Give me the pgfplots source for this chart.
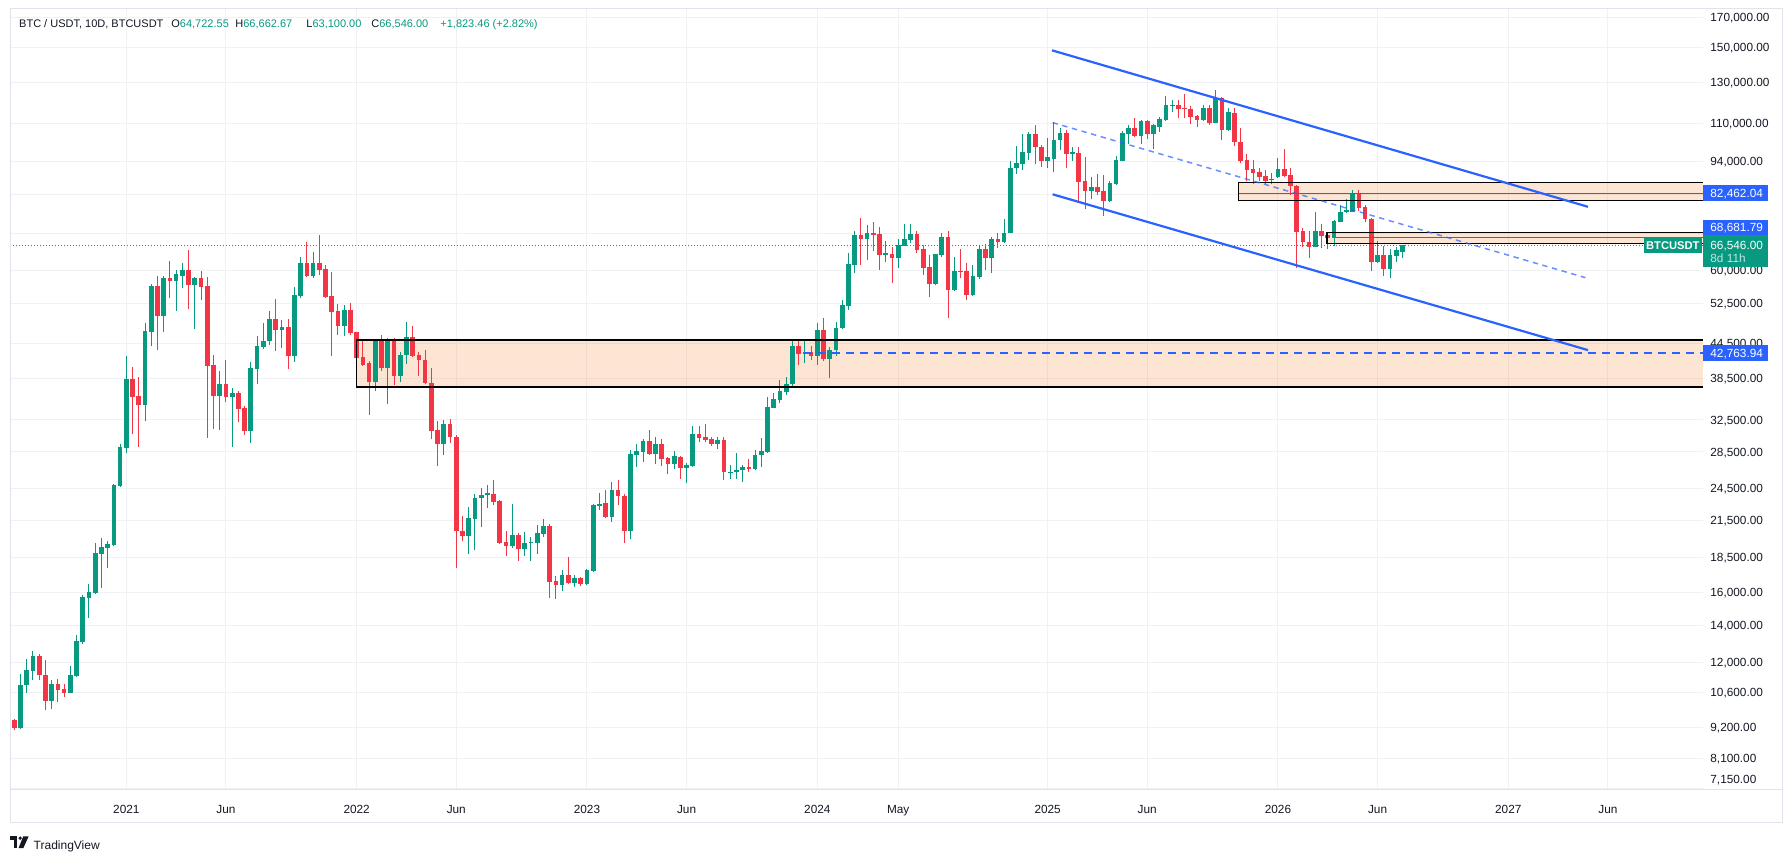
\documentclass[border=0pt]{standalone}
\usepackage{pgfplots}
\usepackage{pgfplotstable}
\pgfplotsset{compat=1.18}
\usetikzlibrary{calc}
\usepackage{fontspec}
\setmainfont{Liberation Sans}

\definecolor{tvgreen}{HTML}{089981}
\definecolor{tvred}{HTML}{F23645}
\definecolor{tvblue}{HTML}{2962FF}
\definecolor{tvtext}{HTML}{131722}
\definecolor{tvgrid}{HTML}{EFF1F5}
\definecolor{tvframe}{HTML}{E0E3EB}
\definecolor{zonetint}{RGB}{245,125,40}

\newcommand{\axisfont}{\fontsize{5.9}{7}\selectfont}
\newcommand{\headfont}{\fontsize{5.5}{6.5}\selectfont}

% BTC/USDT 10-day bars, prices in thousands of USDT (row = bar index)
\pgfplotstableread{
o h l c
9.47 9.50 9.08 9.17
9.17 11.46 9.13 10.96
10.93 12.19 10.60 11.65
11.61 12.56 11.19 12.34
12.34 12.44 11.19 11.39
11.41 12.14 9.87 10.26
10.26 11.19 9.91 11.00
11.00 11.23 10.22 10.74
10.78 11.00 10.43 10.60
10.60 11.81 10.58 11.38
11.34 13.43 11.32 13.12
13.07 15.83 12.96 15.70
15.64 16.57 14.42 16.02
15.97 19.62 15.90 18.80
18.72 20.03 16.30 19.26
19.18 19.74 17.69 19.50
19.42 25.00 19.34 24.89
24.80 29.50 24.70 29.14
29.02 42.30 28.32 38.50
38.50 40.40 30.70 35.65
35.80 38.80 29.14 34.50
34.50 48.40 32.30 46.80
46.60 56.80 44.10 56.30
56.30 58.60 43.30 49.80
49.80 58.60 46.60 58.20
58.20 62.50 53.60 57.40
57.40 60.20 50.80 59.10
58.80 61.90 55.80 60.20
60.20 65.30 51.30 56.50
56.50 58.40 47.20 58.20
58.20 59.90 53.20 56.00
56.30 58.40 30.20 40.60
40.80 42.50 31.30 35.85
35.85 39.80 31.20 37.70
37.70 41.60 35.00 35.65
35.65 37.00 29.05 36.25
36.25 36.60 32.20 34.00
34.10 34.40 30.60 31.00
31.00 41.15 29.55 40.25
40.10 45.80 37.60 44.10
43.90 48.40 43.50 45.00
44.90 50.90 44.30 49.20
49.20 53.40 43.20 47.10
47.10 49.00 43.70 47.60
47.60 49.20 40.00 42.30
42.30 56.00 41.20 54.30
54.15 63.50 53.65 61.90
61.90 67.50 58.40 58.60
58.60 64.80 58.20 61.90
61.90 69.50 58.90 60.20
60.40 61.40 53.70 53.90
54.10 59.60 42.30 50.70
50.90 52.40 46.10 47.80
47.80 52.20 45.80 51.10
51.10 52.60 46.10 46.50
46.60 46.70 40.00 42.00
42.10 44.90 40.60 40.80
41.00 41.40 33.20 38.00
38.00 45.20 36.60 44.90
44.90 46.00 39.80 40.30
40.30 45.50 34.70 44.90
44.90 45.50 37.50 38.90
38.90 42.90 38.00 42.40
42.40 48.60 40.90 45.70
45.70 47.80 42.10 42.30
42.40 42.90 38.90 41.50
41.60 43.30 37.60 37.80
37.90 40.25 30.00 31.10
31.20 32.40 26.90 29.40
29.40 32.50 28.20 32.00
32.00 32.60 29.55 30.25
30.30 30.60 17.70 20.60
20.60 21.90 19.80 20.20
20.20 22.70 18.75 21.70
21.65 24.00 19.05 23.60
23.55 24.60 20.90 23.90
23.85 24.85 22.60 24.05
24.00 25.40 22.90 23.25
23.30 23.40 19.55 19.65
19.70 20.60 18.60 19.35
19.35 23.00 19.20 20.25
20.25 20.45 18.20 19.10
19.10 20.50 18.60 19.65
19.60 20.13 18.25 19.72
19.65 21.10 18.75 20.40
20.35 21.60 20.10 21.00
21.00 21.20 15.66 16.70
16.75 17.15 15.60 16.50
16.50 17.57 16.12 17.20
17.20 18.50 16.60 16.65
16.65 17.20 16.38 17.00
17.00 17.05 16.45 16.60
16.60 17.65 16.50 17.55
17.45 23.00 17.40 22.90
22.80 24.10 22.50 23.05
23.10 24.40 21.70 21.80
21.80 25.20 21.40 24.40
24.40 25.40 22.90 23.80
23.80 24.00 19.60 20.60
20.60 28.70 19.90 28.30
28.20 29.40 26.75 28.60
28.50 30.05 27.40 29.85
29.85 31.20 28.20 28.30
28.30 30.25 27.15 29.50
29.50 30.10 26.90 27.70
27.80 27.90 26.00 27.15
27.15 28.60 26.60 28.00
27.90 28.05 25.55 26.65
26.65 27.25 25.05 27.00
26.90 31.70 26.80 30.70
30.70 31.70 29.70 30.20
30.35 32.00 29.70 29.95
30.10 30.35 29.15 29.50
29.50 30.25 28.80 29.95
29.95 30.30 25.35 26.20
26.15 27.05 25.55 26.30
26.20 28.40 25.55 26.50
26.45 27.05 25.15 26.75
26.75 27.70 26.20 26.55
26.55 28.70 26.50 28.20
28.15 30.20 26.75 28.60
28.50 35.65 28.40 34.30
34.20 36.25 34.15 35.40
35.30 38.35 34.80 36.65
36.50 38.70 36.00 37.70
37.60 44.90 37.05 44.10
44.10 45.10 40.65 42.55
42.55 44.90 41.05 42.90
42.90 44.00 41.50 42.30
42.30 48.30 40.80 47.10
47.10 49.40 41.40 41.70
41.70 43.80 38.60 43.30
43.30 48.50 42.30 47.50
47.50 53.30 47.30 52.20
51.95 64.50 50.95 61.70
61.40 70.70 59.40 69.50
69.50 74.50 61.30 68.20
68.20 72.40 62.80 70.10
70.10 73.30 65.10 69.60
69.80 71.70 60.20 64.10
64.00 67.80 62.30 64.40
64.30 66.10 57.00 63.30
63.30 68.30 60.70 66.70
66.50 72.60 66.30 68.20
68.00 72.60 67.30 69.80
69.80 70.70 64.60 65.40
65.60 66.70 59.00 60.70
60.90 63.90 53.90 56.80
56.80 64.30 56.50 64.20
63.90 70.10 63.40 69.00
69.00 70.70 49.50 55.40
55.40 63.40 55.20 59.90
60.00 65.60 58.20 59.60
59.90 62.00 53.20 54.20
54.20 61.30 54.00 58.80
58.50 66.40 58.00 65.60
65.60 66.90 60.20 63.10
63.10 69.00 59.40 68.20
68.20 70.10 65.90 67.40
67.40 74.20 67.20 70.10
70.00 94.00 69.90 91.50
91.40 100.30 89.40 93.40
93.10 105.00 90.90 97.70
97.30 106.10 94.70 105.00
105.00 109.10 92.80 99.60
99.80 100.70 92.00 94.00
94.00 103.30 91.60 95.50
95.10 110.50 89.80 102.80
102.40 107.60 98.30 105.40
105.40 106.80 91.60 96.90
96.80 99.90 94.00 97.50
97.30 99.80 79.20 86.20
86.60 95.50 77.30 83.10
83.10 88.00 80.50 84.50
84.50 89.40 81.80 82.80
83.10 89.00 75.10 79.80
79.80 86.60 79.60 85.90
85.60 96.20 85.40 94.70
94.30 106.30 94.00 105.40
105.00 109.10 101.10 107.60
107.60 112.40 104.00 104.10
104.10 111.30 101.10 111.10
111.10 111.30 103.20 105.00
105.00 109.50 98.70 109.10
108.30 112.80 106.20 111.90
111.50 123.10 111.10 118.60
118.10 120.90 115.20 118.70
118.60 121.00 112.40 116.60
117.20 124.10 112.40 116.50
116.60 118.10 109.50 112.80
113.30 113.80 108.10 111.50
111.50 118.60 111.10 117.10
117.10 118.60 109.10 110.20
110.00 126.20 109.90 122.00
122.00 122.30 102.80 106.70
106.70 116.80 106.50 115.20
114.60 116.80 100.10 101.70
101.80 107.80 93.20 94.10
94.70 96.80 86.70 90.60
91.10 94.70 85.60 89.60
89.80 91.40 86.70 88.00
88.40 90.90 85.60 86.70
87.00 89.50 85.50 87.40
88.00 95.20 87.80 91.10
91.10 98.70 88.00 88.40
89.00 91.50 81.90 84.80
85.00 85.20 60.60 70.40
70.60 71.50 66.20 67.50
67.50 70.50 63.20 66.20
66.20 76.50 66.00 70.60
70.60 72.60 65.80 69.30
69.50 70.40 65.70 68.70
68.70 73.80 66.40 73.50
73.30 78.50 73.20 76.40
76.20 80.50 75.90 76.90
76.50 83.40 76.30 82.70
82.70 83.40 76.70 77.70
78.00 78.60 73.20 74.30
74.30 74.40 59.80 62.10
62.10 67.90 61.90 64.10
64.10 66.30 58.60 60.40
60.40 65.60 58.20 63.90
63.70 66.20 62.30 65.40
64.72255 66.66267 63.10 66.546
}\candles
\pgfplotstablegetrowsof{\candles}
\pgfmathtruncatemacro{\lastbar}{\pgfplotsretval-1}

\begin{document}
\begin{tikzpicture}
\path[use as bounding box] (0pt,0pt) rectangle (895.5pt,429pt);
\fill[white] (0pt,0pt) rectangle (895.5pt,429pt);

\begin{axis}[
  at={(5pt,34.5pt)}, anchor=south west,
  scale only axis, width=846.5pt, height=390pt,
  xmin=-0.69, xmax=271.28,
  ymode=log, ymin=7.14, ymax=175.75,
  axis line style={draw=none},
  major tick length=0pt,
  grid=major,
  major grid style={draw=tvgrid, line width=0.5pt},
  xtick={18,34,55,71,92,108,129,142,166,182,203,219,240,256},
  xticklabels={2021,Jun,2022,Jun,2023,Jun,2024,May,2025,Jun,2026,Jun,2027,Jun},
  xticklabel style={anchor=base, inner sep=0pt, yshift=-12.2pt, font=\axisfont, text=tvtext},
  yticklabel pos=right,
  ytick={8.1,9.2,10.6,12,14,16,18.5,21.5,24.5,28.5,32.5,38.5,44.5,52.5,60,70,82,94,110,130,150,170},
  yticklabels={{8,100.00},{9,200.00},{10,600.00},{12,000.00},{14,000.00},{16,000.00},{18,500.00},{21,500.00},{24,500.00},{28,500.00},{32,500.00},{38,500.00},{44,500.00},{52,500.00},{60,000.00},{},{},{94,000.00},{110,000.00},{130,000.00},{150,000.00},{170,000.00}},
  yticklabel style={anchor=base west, inner sep=0pt, xshift=3.5pt, yshift=-2.1pt, font=\axisfont, text=tvtext},
  extra y ticks={7.15},
  extra y tick labels={7{,}150.00},
  extra y tick style={yticklabel style={yshift=4.85pt}},
]

% translucent zones
\addplot[draw=none, fill=zonetint, fill opacity=0.2, forget plot]
  coordinates {(54.94,45.15) (271.28,45.15) (271.28,37.23) (54.94,37.23)};
\addplot[draw=none, fill=zonetint, fill opacity=0.2, forget plot]
  coordinates {(196.7,86.19) (271.28,86.19) (271.28,80.11) (196.7,80.11)};
\addplot[draw=none, fill=zonetint, fill opacity=0.2, forget plot]
  coordinates {(210.9,70.24) (271.28,70.24) (271.28,67.08) (210.9,67.08)};

% last price line
\addplot[tvgreen, line width=0.5pt, dash pattern=on 0.5pt off 1pt, forget plot]
  coordinates {(-0.69,66.546) (271.28,66.546)};

% candles: wick from low to high, body from open to close
\pgfplotsinvokeforeach{0,...,\lastbar}{%
  \pgfplotstablegetelem{#1}{o}\of{\candles}\let\co\pgfplotsretval
  \pgfplotstablegetelem{#1}{h}\of{\candles}\let\ch\pgfplotsretval
  \pgfplotstablegetelem{#1}{l}\of{\candles}\let\cl\pgfplotsretval
  \pgfplotstablegetelem{#1}{c}\of{\candles}\let\cc\pgfplotsretval
  \ifdim\cc pt<\co pt \def\ccol{tvred}\else\def\ccol{tvgreen}\fi
  \edef\drawcandle{%
    \noexpand\addplot[forget plot, draw=\ccol, line width=0.5pt]
      coordinates {(#1,\cl) (#1,\ch)};
    \noexpand\addplot[forget plot, draw=\ccol, line width=2.35pt, line cap=butt]
      coordinates {(#1,\co) (#1,\cc)};
  }%
  \drawcandle
}

% zone outlines
\addplot[black, line width=0.7pt, forget plot]
  coordinates {(271.28,45.15) (54.94,45.15) (54.94,37.23) (271.28,37.23)};
\addplot[black, line width=0.7pt, forget plot]
  coordinates {(271.28,86.19) (196.7,86.19) (196.7,80.11) (271.28,80.11)};
\addplot[black, line width=0.7pt, forget plot]
  coordinates {(271.28,70.24) (210.9,70.24) (210.9,67.08) (271.28,67.08)};

% horizontal levels
\addplot[tvblue, line width=0.55pt, forget plot]
  coordinates {(196.7,82.46204) (271.28,82.46204)};
\addplot[tvblue, line width=0.55pt, forget plot]
  coordinates {(212.3,68.68179) (271.28,68.68179)};
\addplot[tvblue, line width=1pt, dash pattern=on 4pt off 3pt, forget plot]
  coordinates {(126.9,42.76394) (271.28,42.76394)};

% descending channel
\addplot[tvblue, line width=1.1pt, forget plot]
  coordinates {(166.7,148.3) (252.8,78.0)};
\addplot[tvblue, line width=1.1pt, forget plot]
  coordinates {(166.8,82.1) (252.8,43.3)};
\addplot[tvblue, draw opacity=0.7, line width=0.75pt, dash pattern=on 2.7pt off 2.3pt, forget plot]
  coordinates {(166.8,110.2) (252.4,58.3)};

% anchors for the price-scale tags
\coordinate (tagA) at (axis cs:271.28,82.46204);
\coordinate (tagB) at (axis cs:271.28,68.68179);
\coordinate (tagC) at (axis cs:271.28,66.546);
\coordinate (tagD) at (axis cs:271.28,42.76394);
\end{axis}

% frame
\draw[tvframe, line width=0.5pt] (5pt,17.65pt) rectangle (891pt,424.5pt);
\draw[tvframe, line width=0.5pt] (5pt,34.5pt) -- (891pt,34.5pt);

% price-scale tags
\fill[tvblue] ($(tagA)+(0pt,-4pt)$) rectangle ($(tagA)+(32.5pt,4pt)$);
\node[anchor=base west, inner sep=0pt, text=white, font=\axisfont] at ($(tagA)+(3.5pt,-2.1pt)$) {82,462.04};

\fill[tvblue] ($(tagB)+(0pt,1.4pt)$) rectangle ($(tagB)+(32.5pt,9pt)$);
\node[anchor=base west, inner sep=0pt, text=white, font=\axisfont] at ($(tagB)+(3.5pt,3.1pt)$) {68,681.79};

\fill[tvgreen] ($(tagC)+(0pt,-10.6pt)$) rectangle ($(tagC)+(32.5pt,5.25pt)$);
\node[anchor=base west, inner sep=0pt, text=white, font=\axisfont] at ($(tagC)+(3.5pt,-2.1pt)$) {66,546.00};
\node[anchor=base west, inner sep=0pt, text=white!75!tvgreen, font=\axisfont] at ($(tagC)+(3.5pt,-8.4pt)$) {8d 11h};
\fill[tvgreen] ($(tagC)+(-29.5pt,-4pt)$) rectangle ($(tagC)+(-0.65pt,4pt)$);
\node[anchor=center, inner sep=0pt, text=white, font=\fontsize{5.6}{6.5}\selectfont\bfseries] at ($(tagC)+(-15.1pt,0pt)$) {BTCUSDT};

\fill[tvblue] ($(tagD)+(0pt,-4pt)$) rectangle ($(tagD)+(32.5pt,4pt)$);
\node[anchor=base west, inner sep=0pt, text=white, font=\axisfont] at ($(tagD)+(3.5pt,-2.1pt)$) {42,763.94};

% legend line
\node[anchor=base west, inner sep=0pt, text=tvtext, font=\headfont] at (9.4pt,415pt) {BTC / USDT, 10D, BTCUSDT};
\node[anchor=base west, inner sep=0pt, font=\headfont] at (85.5pt,415pt) {\textcolor{tvtext}{O}\textcolor{tvgreen}{64,722.55}};
\node[anchor=base west, inner sep=0pt, font=\headfont] at (117.5pt,415pt) {\textcolor{tvtext}{H}\textcolor{tvgreen}{66,662.67}};
\node[anchor=base west, inner sep=0pt, font=\headfont] at (153pt,415pt) {\textcolor{tvtext}{L}\textcolor{tvgreen}{63,100.00}};
\node[anchor=base west, inner sep=0pt, font=\headfont] at (185.5pt,415pt) {\textcolor{tvtext}{C}\textcolor{tvgreen}{66,546.00}};
\node[anchor=base west, inner sep=0pt, text=tvgreen, font=\headfont] at (220pt,415pt) {+1,823.46 (+2.82\%)};

% logo
\fill[tvtext] (4.9pt,9.0pt) rectangle (8.6pt,10.8pt);
\fill[tvtext] (6.8pt,5.0pt) rectangle (8.6pt,10.8pt);
\fill[tvtext] (10.1pt,9.9pt) circle (0.9pt);
\fill[tvtext] (11.6pt,10.8pt) -- (14.3pt,10.8pt) -- (11.7pt,5.0pt) -- (9.3pt,5.0pt) -- cycle;
\node[anchor=base west, inner sep=0pt, text=tvtext, font=\fontsize{6}{7}\selectfont] at (16.65pt,4.4pt) {TradingView};
\end{tikzpicture}
\end{document}
